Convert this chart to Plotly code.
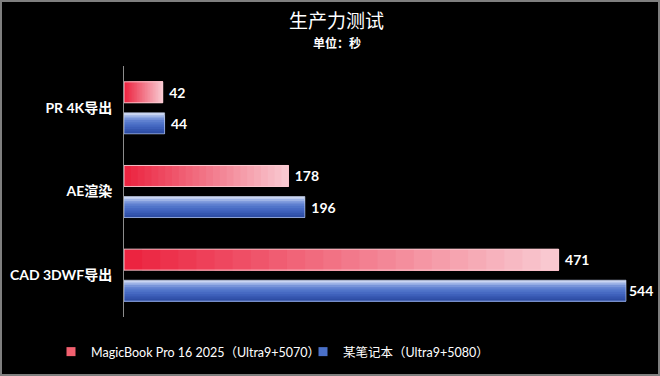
import numpy as np
import plotly.graph_objects as go

categories = ["PR 4K导出", "AE渲染", "CAD 3DWF导出"]
magicbook = [42, 178, 471]
other = [44, 196, 544]
series_names = ["MagicBook Pro 16 2025（Ultra9+5070）", "某笔记本（Ultra9+5080）"]

W, H = 660, 376
ML, MR, MT, MB = 124, 10, 66, 59
PW, PH = W - ML - MR, H - MT - MB

def px_x(x):
    return (x - ML) / PW

def px_y(y):
    return (H - MB - y) / PH

FONT = "Lato, 'Noto Sans CJK SC', sans-serif"
BAR_W = 0.251
RED_OFF = -0.311
BLUE_OFF = 0.06

fig = go.Figure()

mb = np.array(magicbook, dtype=float)
ot = np.array(other, dtype=float)

# red: horizontal gradient (dark left -> light right), overlapping layers
N = 24
c0 = np.array([236, 36, 64])
c1 = np.array([249, 200, 208])
for i in range(N):
    t = i / (N - 1)
    c = (c0 + (c1 - c0) * t).astype(int)
    fig.add_trace(go.Bar(
        y=categories, x=mb * (N - i) / N, base=mb * i / N, orientation="h",
        offset=RED_OFF, width=BAR_W,
        marker=dict(color=f"rgb({c[0]},{c[1]},{c[2]})", line=dict(width=0)),
        showlegend=False, hoverinfo="skip"))
# red outline + text
fig.add_trace(go.Bar(
    y=categories, x=mb, orientation="h", offset=RED_OFF, width=BAR_W,
    marker=dict(color="rgba(0,0,0,0)", line=dict(color="rgba(252,205,212,0.9)", width=1)),
    texttemplate="\u00a0%{x}", textposition="outside", cliponaxis=False,
    textfont=dict(color="white", size=14, family=FONT, weight="bold"),
    showlegend=False, name=series_names[0]))

# blue: vertical gradient (light top -> dark bottom), overlapping layers
blue_cols = ["#c9d5f2", "#9db3e6", "#7895da", "#5f80d0", "#5074c9",
             "#4669c2", "#3d5fb9", "#3455ae", "#2d4da4"]
M = len(blue_cols)
for k, col in enumerate(blue_cols):
    fig.add_trace(go.Bar(
        y=categories, x=ot, orientation="h",
        offset=BLUE_OFF + k * BAR_W / M, width=BAR_W * (M - k) / M,
        marker=dict(color=col, line=dict(width=0)),
        showlegend=False, hoverinfo="skip"))
fig.add_trace(go.Bar(
    y=categories, x=ot, orientation="h", offset=BLUE_OFF, width=BAR_W,
    marker=dict(color="rgba(0,0,0,0)", line=dict(color="rgba(200,212,240,0.6)", width=1)),
    texttemplate=["\u00a0%{x}", "\u00a0%{x}", "%{x}"], textposition="outside", cliponaxis=False,
    textfont=dict(color="white", size=14, family=FONT, weight="bold"),
    showlegend=False, name=series_names[1]))

# legend entries
for name, col in zip(series_names, ["#f2606f", "#4a70c8"]):
    fig.add_trace(go.Scatter(
        x=[None], y=[None], mode="markers", name=name,
        marker=dict(symbol="square", size=9, color=col)))

fig.update_layout(
    width=W, height=H,
    margin=dict(l=ML, r=MR, t=MT, b=MB, autoexpand=False),
    paper_bgcolor="black", plot_bgcolor="black",
    barmode="overlay",
    showlegend=True,
    legend=dict(orientation="h", x=px_x(51), y=px_y(352), xanchor="left", yanchor="middle",
                font=dict(color="white", size=12.5, family=FONT), itemwidth=30,
                entrywidth=207, entrywidthmode="pixels",
                tracegroupgap=0, bgcolor="rgba(0,0,0,0)"),
    xaxis=dict(range=[0, PW / ((626 - 124) / 544)], visible=False, showgrid=False,
               zeroline=False, automargin=False),
    yaxis=dict(autorange="reversed", showgrid=False, zeroline=False, automargin=False,
               showline=True, linecolor="#8c8c8c", linewidth=1,
               ticks="", ticklabelstandoff=8,
               tickfont=dict(color="white", size=14, family=FONT, weight="bold")),
    annotations=[
        dict(text="生产力测试", x=px_x(336), y=px_y(20), xref="paper", yref="paper",
             showarrow=False, font=dict(color="white", size=19, family="'Noto Sans CJK SC', sans-serif"),
             xanchor="center", yanchor="middle"),
        dict(text="<b>单位：秒</b>", x=px_x(337), y=px_y(42), xref="paper", yref="paper",
             showarrow=False, font=dict(color="white", size=12, family="'Noto Sans CJK SC', sans-serif"),
             xanchor="center", yanchor="middle"),
    ],
    shapes=[dict(type="rect", xref="paper", yref="paper",
                 x0=px_x(1), x1=px_x(659), y0=px_y(375), y1=px_y(1),
                 line=dict(color="#7f7f7f", width=2), fillcolor="rgba(0,0,0,0)", layer="below")],
    hovermode=False,
)

fig.write_html("out.html", config={"displayModeBar": False},
               post_script="document.body.style.margin='0';document.body.style.padding='0';"
                           "document.body.style.overflow='hidden';")
